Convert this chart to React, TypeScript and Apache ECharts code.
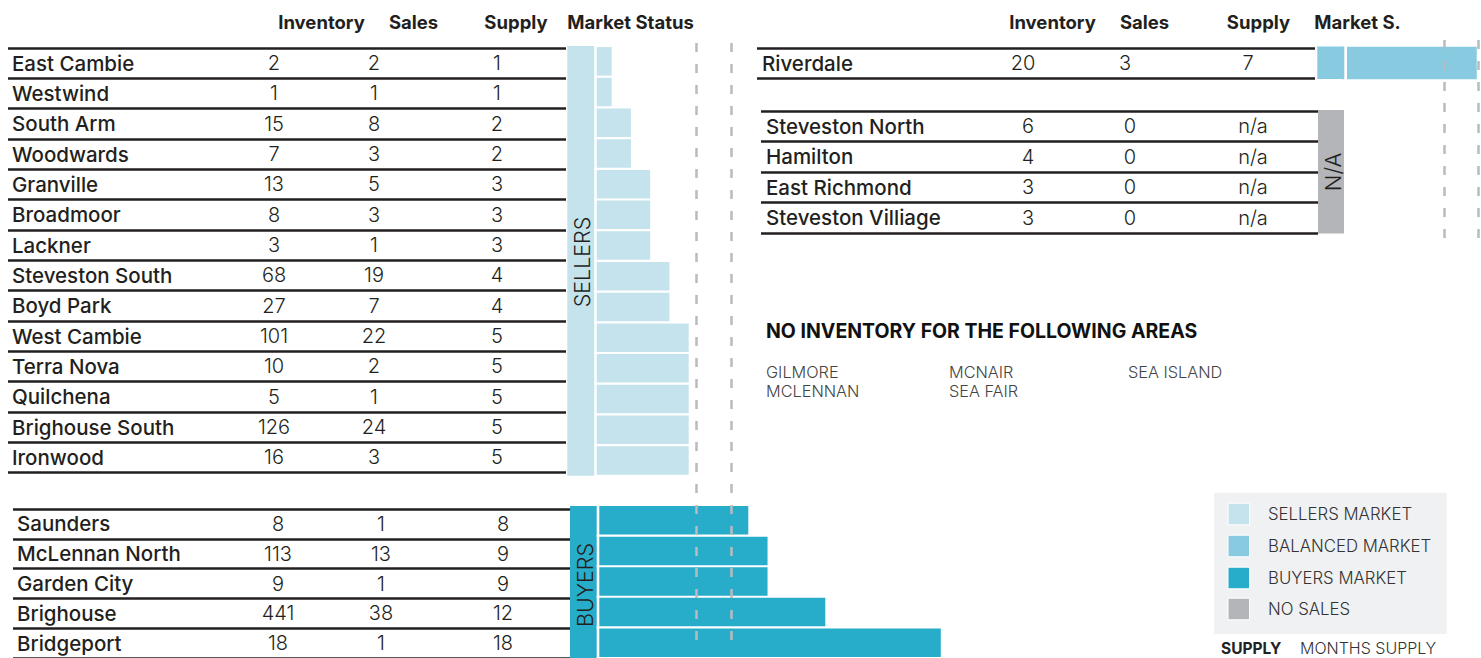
import React, { useEffect, useRef } from "react";
import * as echarts from "echarts";

// ---------- data ----------
const columnHeaders = ["Inventory", "Sales", "Supply", "Market Status"];
const rightHeaders = ["Inventory", "Sales", "Supply", "Market S."];

const sellerAreas = ["East Cambie", "Westwind", "South Arm", "Woodwards", "Granville", "Broadmoor", "Lackner", "Steveston South", "Boyd Park", "West Cambie", "Terra Nova", "Quilchena", "Brighouse South", "Ironwood"];
const sellerInventory = [2, 1, 15, 7, 13, 8, 3, 68, 27, 101, 10, 5, 126, 16];
const sellerSales = [2, 1, 8, 3, 5, 3, 1, 19, 7, 22, 2, 1, 24, 3];
const sellerSupply = [1, 1, 2, 2, 3, 3, 3, 4, 4, 5, 5, 5, 5, 5];

const buyerAreas = ["Saunders", "McLennan North", "Garden City", "Brighouse", "Bridgeport"];
const buyerInventory = [8, 113, 9, 441, 18];
const buyerSales = [1, 13, 1, 38, 1];
const buyerSupply = [8, 9, 9, 12, 18];

const balancedAreas = ["Riverdale"];
const balancedInventory = [20];
const balancedSales = [3];
const balancedSupply = [7];

const noSalesAreas = ["Steveston North", "Hamilton", "East Richmond", "Steveston Villiage"];
const noSalesInventory = [6, 4, 3, 3];
const noSalesSales = [0, 0, 0, 0];
const noSalesSupply = ["n/a", "n/a", "n/a", "n/a"];

const noInventoryTitle = "NO INVENTORY FOR THE FOLLOWING AREAS";
const noInventoryAreas = ["GILMORE", "MCLENNAN", "MCNAIR", "SEA FAIR", "SEA ISLAND"];

const legendItems = ["SELLERS MARKET", "BALANCED MARKET", "BUYERS MARKET", "NO SALES"];
const supplyThresholds = [5.3, 7.1];

// ---------- style ----------
const FONT = 'Inter, "Noto Sans", sans-serif';
const INK = "#231f20";
const SELL = "#c5e3ed";
const BAL = "#88cadf";
const BUY = "#27adc9";
const NOSALE = "#b3b5b8";
const DASH = "#babbbe";
const UNIT = 19.25;

function buildOption() {
  const grid: any[] = [];
  const xAxis: any[] = [];
  const yAxis: any[] = [];
  const series: any[] = [];
  const graphic: any[] = [];

  const addTable = (left: number, top: number, width: number, rowH: number, names: string[], cols: { x: number; values: (string | number)[] }[], nameMargin: number) => {
    const gi = grid.push({ left, top, width, height: rowH * names.length }) - 1;
    xAxis.push({ type: "value", gridIndex: gi, show: false });
    yAxis.push({
      type: "category", gridIndex: gi, data: names, inverse: true, position: "left",
      axisLine: { show: false }, axisTick: { show: false },
      axisLabel: { inside: true, margin: nameMargin, interval: 0, color: INK, fontFamily: FONT, fontSize: 20.5, fontWeight: 500 },
      splitLine: { show: true, interval: 0, lineStyle: { color: INK, width: 2.6 } },
    });
    cols.forEach((c) => {
      yAxis.push({
        type: "category", gridIndex: gi, data: names, inverse: true, position: "left", offset: -(c.x - left),
        axisLine: { show: false }, axisTick: { show: false }, splitLine: { show: false },
        axisLabel: { margin: 0, align: "center", interval: 0, color: INK, fontFamily: FONT, fontSize: 20, fontWeight: 300,
          formatter: (_v: string, i: number) => String(c.values[i]) },
      });
    });
  };

  const addBars = (left: number, top: number, rowH: number, names: string[], values: number[], color: string, barWidth: number, max: number) => {
    const gi = grid.push({ left, top, width: max * UNIT, height: rowH * names.length }) - 1;
    const xi = xAxis.push({ type: "value", gridIndex: gi, min: 0, max, show: false }) - 1;
    const yi = yAxis.push({ type: "category", gridIndex: gi, data: names, inverse: true, show: false }) - 1;
    series.push({ type: "bar", xAxisIndex: xi, yAxisIndex: yi, data: values, barWidth, itemStyle: { color }, silent: true, z: 2 });
  };

  const addThresholds = (left: number, top: number, height: number, max: number) => {
    const gi = grid.push({ left, top, width: max * UNIT, height }) - 1;
    const xi = xAxis.push({ type: "value", gridIndex: gi, min: 0, max, show: false }) - 1;
    const yi = yAxis.push({ type: "value", gridIndex: gi, min: 0, max: 1, show: false }) - 1;
    series.push({
      type: "line", xAxisIndex: xi, yAxisIndex: yi, data: [], z: 6, silent: true,
      markLine: { silent: true, symbol: "none", label: { show: false },
        lineStyle: { color: DASH, width: 2.5, type: [9, 12] },
        data: supplyThresholds.map((v) => ({ xAxis: v })) },
    });
  };

  // tables
  addTable(8, 48, 558, 30.33, sellerAreas, [
    { x: 274, values: sellerInventory }, { x: 374, values: sellerSales }, { x: 497, values: sellerSupply }], 4);
  addTable(13, 509, 557, 30.3, buyerAreas, [
    { x: 278, values: buyerInventory }, { x: 381, values: buyerSales }, { x: 503, values: buyerSupply }], 4);
  addTable(757, 48, 558, 30.3, balancedAreas, [
    { x: 1023, values: balancedInventory }, { x: 1125, values: balancedSales }, { x: 1248, values: balancedSupply }], 5);
  addTable(761, 111, 557, 30.5, noSalesAreas, [
    { x: 1028, values: noSalesInventory }, { x: 1130, values: noSalesSales }, { x: 1253, values: noSalesSupply }], 5);

  // bars (months of supply)
  addBars(592.45, 46, 30.7, sellerAreas, sellerSupply, SELL, 28.5, 20);
  addBars(594.3, 505, 31, buyerAreas, buyerSupply, BUY, 28.5, 20);
  addBars(1342, 46.5, 32.8, balancedAreas, balancedSupply, BAL, 32.5, 7.15);

  // threshold dashed lines
  addThresholds(594.6, 40, 600, 20);
  addThresholds(1342, 38, 200, 7.15);

  const txt = (text: string, x: number, y: number, o: any = {}) => ({
    type: "text", x, y, z: 20, rotation: o.rotation || 0, silent: true,
    style: {
      text, fill: o.fill || INK, fontFamily: FONT, fontSize: o.size || 17, fontWeight: o.weight || 400,
      align: o.align || "left", textAlign: o.align || "left", verticalAlign: "middle", textVerticalAlign: "middle",
    },
  });
  const rect = (x: number, y: number, w: number, h: number, fill: string, stroke?: string) => ({
    type: "rect", z: 15, silent: true, shape: { x, y, width: w, height: h },
    style: { fill, stroke: stroke || null, lineWidth: stroke ? 1 : 0 },
  });

  // headers
  [321.5, 413.5, 516, 630.5].forEach((x, i) => graphic.push(txt(columnHeaders[i], x, 22, { align: "center", weight: 700, size: 18.5 })));
  [1052.5, 1144.5, 1258.5, 1357.5].forEach((x, i) => graphic.push(txt(rightHeaders[i], x, 22, { align: "center", weight: 700, size: 18.5 })));

  // status boxes
  graphic.push(rect(567.3, 46, 27, 429.7, SELL));
  graphic.push(rect(594.3, 44, 2.4, 434, "#ffffff"));
  graphic.push(txt("SELLERS", 582, 262, { align: "center", rotation: Math.PI / 2, size: 21.5, weight: 300 }));
  graphic.push(rect(570, 506, 26.7, 152, BUY));
  graphic.push(rect(596.7, 503, 2.6, 160, "#ffffff"));
  graphic.push(txt("BUYERS", 584.5, 585, { align: "center", rotation: Math.PI / 2, size: 21.5, weight: 300 }));
  graphic.push(rect(1317.3, 46.5, 27, 32.5, BAL));
  graphic.push(rect(1344.3, 44, 2.7, 37, "#ffffff"));
  graphic.push(rect(1318, 110, 26, 123.5, NOSALE));
  graphic.push(txt("N/A", 1333, 172, { align: "center", rotation: Math.PI / 2, size: 22, weight: 300 }));

  // no-inventory list
  graphic.push(txt(noInventoryTitle, 766, 331, { weight: 700, size: 19.5, fill: "#111" }));
  const colX = [766, 949, 1128];
  noInventoryAreas.forEach((n, i) => graphic.push(txt(n, colX[Math.floor(i / 2)], i % 2 === 0 ? 371.5 : 391, { size: 16.3, weight: 300, fill: "#444" })));

  // legend
  graphic.push({ ...rect(1214, 492.7, 232.7, 141.3, "#f0f1f3"), z: 12 });
  const legendColors = [SELL, BAL, BUY, NOSALE];
  legendItems.forEach((t, i) => {
    const cy = [514, 546, 578, 609][i];
    graphic.push(rect(1228, cy - 10.8, 21.6, 21.6, legendColors[i], "#ffffff"));
    graphic.push(txt(t, 1268, cy, { size: 16.8, weight: 300, fill: "#333" }));
  });
  graphic.push(txt("SUPPLY", 1221, 648, { size: 15.5, weight: 700, fill: "#222" }));
  graphic.push(txt("MONTHS SUPPLY", 1300, 648, { size: 16, weight: 300, fill: "#333" }));

  return { animation: false, backgroundColor: "#ffffff", grid, xAxis, yAxis, series, graphic };
}

export default function App() {
  const ref = useRef<HTMLDivElement>(null);
  useEffect(() => {
    const chart = echarts.init(ref.current!, null, { renderer: "svg" });
    chart.setOption(buildOption());
    return () => chart.dispose();
  }, []);
  return <div ref={ref} style={{ position: "fixed", left: 0, top: 0, width: 1481, height: 658, background: "#fff" }} />;
}
